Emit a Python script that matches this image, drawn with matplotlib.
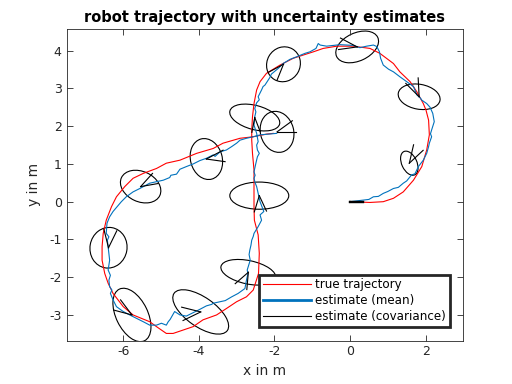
import numpy as np
import matplotlib
matplotlib.use("Agg")
import matplotlib.pyplot as plt
from matplotlib.patches import Ellipse
from matplotlib.lines import Line2D

plt.rcParams['font.family'] = ['DejaVu Sans']
plt.rcParams['axes.unicode_minus'] = False

# true trajectory (red)
true_x = [0, 0.53, 0.88, 1.15, 1.41, 1.68, 1.90, 2.03, 2.10, 2.08, 2.01, 1.94, 1.77, 1.59, 1.32, 1.15,
          0.79, 0.53, 0.09, -0.35, -0.71, -0.97, -1.50, -1.85, -2.21, -2.38, -2.47, -2.54, -2.58, -2.60,
          -2.60, -2.58, -2.54, -2.54, -2.54, -2.53, -2.43, -2.40, -2.42, -2.56, -2.74, -3.00, -3.27, -3.53,
          -3.89, -4.15, -4.68, -4.86, -5.12, -5.30, -5.74, -6.00, -6.27, -6.40, -6.49, -6.56, -6.56, -6.53,
          -6.45, -6.31, -6.18, -5.96, -5.74, -5.47, -5.12, -4.86, -4.50, -4.06, -3.62, -3.36, -2.91, -2.56,
          -2.21, -2.03]
true_y = [0, -0.02, 0, 0.09, 0.26, 0.57, 0.93, 1.37, 1.77, 2.16, 2.43, 2.60, 2.91, 3.18, 3.44, 3.66,
          3.93, 4.06, 4.12, 4.12, 4.06, 3.97, 3.80, 3.62, 3.40, 3.18, 2.96, 2.60, 2.25, 1.90,
          1.63, 1.28, 0.84, 0.40, -0.13, -0.49, -0.88, -1.37, -1.90, -2.34, -2.52, -2.65, -2.83, -3.00,
          -3.13, -3.31, -3.49, -3.49, -3.31, -3.18, -3.00, -2.78, -2.43, -2.16, -1.90, -1.55, -1.19, -0.84,
          -0.49, -0.13, 0.13, 0.40, 0.62, 0.75, 0.88, 1.02, 1.10, 1.28, 1.41, 1.55, 1.68, 1.72,
          1.79, 1.81]

# estimated trajectory (blue, mean)
est_x = [0, 0.35, 0.50, 0.62, 0.75, 0.88, 1.00, 1.15, 1.28, 1.41, 1.50, 1.63, 1.72, 1.81, 1.94, 2.03,
         2.08, 2.10, 2.16, 2.13, 2.16, 2.23, 2.19, 2.12, 2.03, 1.90, 1.86, 1.77, 1.68, 1.50, 1.32,
         1.15, 1.02, 0.88, 0.84, 0.81, 0.78, 0.71, 0.62, 0.44, 0.26, 0.09, -0.09, -0.26, -0.44,
         -0.62, -0.79, -0.84, -0.90, -1.06, -1.19, -1.41, -1.59, -1.77, -1.90, -2.03, -2.08, -2.12,
         -2.25, -2.30, -2.34, -2.43, -2.40, -2.47, -2.52, -2.49, -2.52, -2.54, -2.47, -2.43, -2.47,
         -2.45, -2.40, -2.45, -2.49, -2.54, -2.51, -2.54, -2.51, -2.47, -2.38, -2.28, -2.38, -2.34,
         -2.43, -2.54, -2.56, -2.60, -2.62, -2.65, -2.67, -2.64, -2.72, -2.70, -2.74, -2.78, -2.96,
         -3.13, -3.27, -3.30, -3.44, -3.62, -3.66, -3.80, -3.97, -4.15, -4.33, -4.50, -4.64, -4.72,
         -4.76, -4.81, -4.86, -4.99, -5.12, -5.30, -5.47, -5.65, -5.83, -6.00, -6.18, -6.27, -6.34,
         -6.30, -6.36, -6.38, -6.34, -6.40, -6.36, -6.38, -6.40, -6.42, -6.38, -6.45, -6.43, -6.36,
         -6.27, -6.16, -6.05, -5.92, -5.74, -5.56, -5.43, -5.30, -5.12, -4.94, -4.77, -4.74, -4.59,
         -4.50, -4.33, -4.15, -3.97, -3.80, -3.62, -3.57, -3.44, -3.27, -3.13, -3.00, -2.91, -2.74,
         -2.56, -2.38, -2.16, -1.94]
est_y = [0, 0.04, 0.06, 0.13, 0.14, 0.22, 0.27, 0.35, 0.38, 0.49, 0.55, 0.71, 0.74, 0.93, 1.10, 1.28,
         1.46, 1.55, 1.72, 1.80, 1.90, 2.12, 2.34, 2.50, 2.60, 2.69, 2.75, 2.83, 3.05, 3.18, 3.31,
         3.44, 3.51, 3.62, 3.72, 3.80, 3.97, 4.11, 4.15, 4.12, 4.08, 4.14, 4.15, 4.16, 4.14,
         4.12, 4.15, 4.19, 4.06, 3.97, 3.93, 3.84, 3.77, 3.66, 3.53, 3.42, 3.38, 3.29,
         3.09, 3.05, 2.96, 2.78, 2.70, 2.62, 2.47, 2.38, 2.25, 2.03, 1.81, 1.59, 1.50,
         1.37, 1.28, 1.19, 1.02, 0.79, 0.70, 0.62, 0.50, 0.40, 0.00, -0.26, -0.35, -0.49,
         -0.66, -0.84, -0.92, -1.02, -1.15, -1.28, -1.40, -1.55, -1.81, -1.90, -2.08, -2.30, -2.43,
         -2.52, -2.60, -2.62, -2.65, -2.69, -2.72, -2.76, -2.85, -2.94, -3.03, -3.00, -2.91, -3.05,
         -3.12, -3.18, -3.27, -3.22, -3.27, -3.27, -3.18, -3.09, -3.00, -2.91, -2.78, -2.60, -2.43,
         -2.34, -2.25, -2.08, -1.95, -1.81, -1.55, -1.37, -1.19, -1.02, -0.93, -0.84, -0.57, -0.40,
         -0.26, -0.13, 0.00, 0.13, 0.26, 0.35, 0.42, 0.49, 0.53, 0.57, 0.64, 0.70, 0.73,
         0.86, 0.93, 1.00, 1.09, 1.15, 1.24, 1.20, 1.32, 1.37, 1.46, 1.55, 1.63, 1.68,
         1.72, 1.77, 1.79, 1.81]

# covariance ellipses: centre, semi-axes, orientation; heading wedge: mean heading, spread, length
ell_cx = [0.0, 0.19, 1.83, 1.57, -1.76, -2.52, -1.93, -3.80, -5.54, -6.39, -5.77, -3.95, -2.69, -2.40]
ell_cy = [0.0, 4.10, 2.78, 1.02, 3.64, 2.23, 1.85, 1.13, 0.40, -1.22, -3.00, -2.92, -1.87, 0.16]
ell_a = [0.01, 0.60, 0.56, 0.34, 0.47, 0.68, 0.55, 0.55, 0.56, 0.54, 0.76, 0.86, 0.74, 0.78]
ell_b = [0.01, 0.37, 0.33, 0.20, 0.44, 0.32, 0.44, 0.42, 0.40, 0.49, 0.42, 0.39, 0.31, 0.36]
ell_ang = [0, 25, -10, 115, 60, -15, 105, 105, -25, 80, 116, 145, -12, 0]
head = [0, 170, 114, 60, 228, 275, 18, 10, 29, 84, 146, 186, 243, 274]
spread = [0, 18, 21, 17, 20, 16, 18, 18, 19, 20, 19, 20, 22, 21]
wlen = [0.35, 0.5, 0.5, 0.5, 0.46, 0.4, 0.5, 0.5, 0.47, 0.5, 0.5, 0.52, 0.46, 0.45]

fig = plt.figure(figsize=(5.12, 3.84), dpi=100)
ax = fig.add_axes([0.13, 0.113, 0.775, 0.811])

ax.plot(true_x, true_y, color='red', lw=0.8)
ax.plot(est_x, est_y, color='#0072BD', lw=0.8)
for cx, cy, a, b, ang, h, s, L in zip(ell_cx, ell_cy, ell_a, ell_b, ell_ang, head, spread, wlen):
    ax.add_patch(Ellipse((cx, cy), 2 * a, 2 * b, angle=ang, fill=False, ec='black', lw=0.8))
    wlw = 1.6 if s == 0 else 0.8
    for d in (h - s, h + s):
        r = np.deg2rad(d)
        ax.plot([cx, cx + L * np.cos(r)], [cy, cy + L * np.sin(r)], color='black', lw=wlw)

ax.set_xlim(-7.5, 3.0)
ax.set_ylim(-3.68, 4.57)
ax.set_xticks([-6, -4, -2, 0, 2])
ax.set_yticks([-3, -2, -1, 0, 1, 2, 3, 4])
ax.tick_params(direction='in', top=True, right=True, labelsize=9, colors='#262626', length=4, width=0.6)
for sp in ax.spines.values():
    sp.set_color('#262626')
    sp.set_linewidth(0.6)
ax.set_xlabel('x in m', fontsize=10, color='#262626', labelpad=4)
ax.set_ylabel('y in m', fontsize=10, color='#262626', labelpad=6)
ax.set_title('robot trajectory with uncertainty estimates', fontsize=10.5, fontweight='bold', pad=5)

handles = [Line2D([], [], color='red', lw=0.8),
           Line2D([], [], color='#0072BD', lw=2.0),
           Line2D([], [], color='black', lw=0.8)]
leg = ax.legend(handles, ['true trajectory', 'estimate (mean)', 'estimate (covariance)'],
                loc='lower right', fontsize=8.6, fancybox=False, framealpha=1,
                borderpad=0.3, labelspacing=0.25, handlelength=4.0, handletextpad=0.4,
                borderaxespad=1.15)
leg.get_frame().set_edgecolor('#262626')
leg.get_frame().set_linewidth(2.0)

fig.savefig('out.png', dpi=100)
